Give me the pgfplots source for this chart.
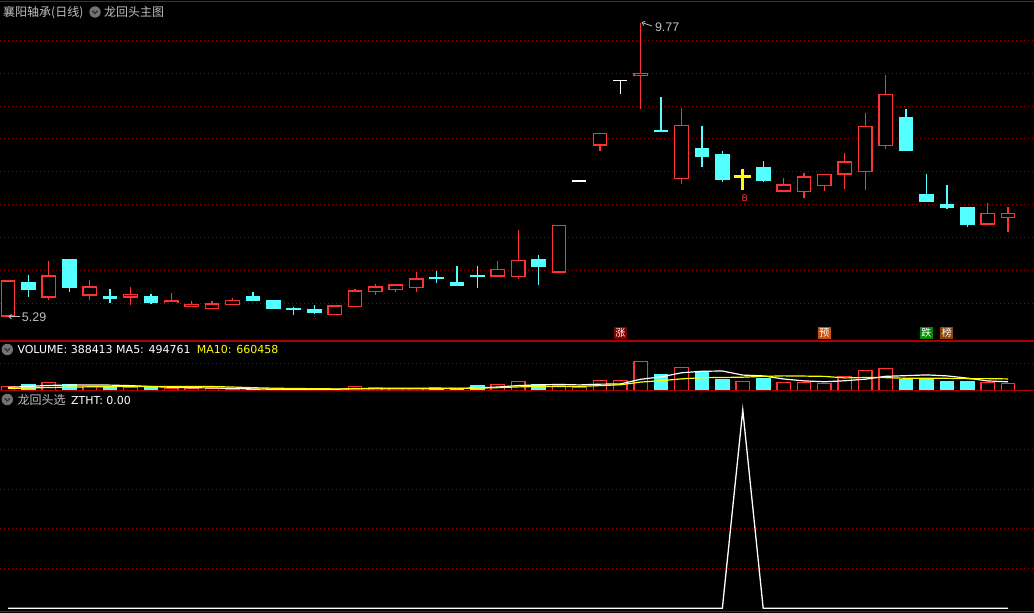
\documentclass[border=0pt]{standalone}
\usepackage{pgfplots}
\pgfplotsset{compat=1.18}
\usepackage{pgfplotstable}
\usepackage{fontspec}
\setmainfont{DejaVu Sans}
\newfontfamily\cjk{Noto Sans CJK SC}
\newfontfamily\lib{Liberation Sans}
\usetikzlibrary{arrows.meta}
\definecolor{cred}{RGB}{255,50,50}
\definecolor{ccyan}{RGB}{84,255,255}
\definecolor{cgrid}{RGB}{150,0,0}
\definecolor{csep}{RGB}{175,0,0}
\definecolor{ctext}{RGB}{192,192,192}
\definecolor{cyel}{RGB}{255,255,0}
\definecolor{cicon}{RGB}{115,115,115}
\definecolor{bzhang}{RGB}{128,0,0}
\definecolor{byu}{RGB}{200,80,20}
\definecolor{bdie}{RGB}{0,140,0}
\definecolor{bbang}{RGB}{140,70,10}

% candles: i open high low close
\pgfplotstableread{
i o h l c
1 5.31 5.84 5.29 5.84
3 5.60 6.15 5.56 5.92
5 5.63 5.86 5.55 5.75
7 5.60 5.75 5.47 5.64
9 5.51 5.66 5.50 5.54
10 5.45 5.54 5.44 5.48
11 5.42 5.54 5.42 5.49
12 5.48 5.58 5.47 5.55
17 5.33 5.48 5.33 5.46
18 5.45 5.72 5.44 5.69
19 5.68 5.80 5.63 5.75
20 5.71 5.80 5.67 5.78
21 5.74 5.98 5.67 5.87
25 5.92 6.15 5.92 6.02
26 5.91 6.62 5.87 6.15
28 5.98 6.69 5.98 6.69
30 7.91 8.08 7.82 8.08
32 8.96 9.77 8.46 9.00
34 7.40 8.47 7.31 8.21
39 7.21 7.41 7.21 7.30
40 7.20 7.48 7.11 7.42
41 7.29 7.46 7.21 7.46
42 7.47 7.79 7.24 7.65
43 7.51 8.40 7.23 8.19
44 7.90 8.97 7.85 8.68
49 6.71 7.03 6.71 6.87
50 6.81 6.97 6.59 6.87
}\up
\pgfplotstableread{
i o h l c
2 5.81 5.93 5.60 5.72
4 6.16 6.16 5.68 5.75
6 5.61 5.72 5.51 5.58
8 5.60 5.64 5.49 5.52
13 5.60 5.67 5.54 5.55
14 5.54 5.55 5.42 5.42
15 5.42 5.45 5.33 5.41
16 5.40 5.48 5.34 5.36
22 5.89 5.99 5.81 5.88
23 5.81 6.07 5.77 5.78
24 5.92 6.07 5.74 5.91
27 6.16 6.24 5.78 6.07
33 8.13 8.64 8.11 8.11
35 7.85 8.20 7.58 7.73
36 7.76 7.82 7.35 7.38
38 7.56 7.67 7.35 7.37
45 8.32 8.46 7.82 7.82
46 7.15 7.47 7.05 7.05
47 7.00 7.30 6.93 6.96
48 6.95 6.97 6.67 6.70
}\dn
\pgfplotstableread{
i o h l c
29 7.36 7.36 7.36 7.36
31 8.89 8.89 8.69 8.89
}\wh
\pgfplotstableread{
i o h l c
37 7.43 7.54 7.23 7.43
}\ye
% volume (thousand shares)
\pgfplotstableread{
i v
1 211
3 440
5 228
7 188
9 114
10 114
11 114
12 57
17 74
18 228
19 154
20 97
21 97
25 348
26 508
28 251
29 154
30 565
31 565
32 1674
34 1325
37 508
39 446
40 446
41 388
42 800
43 1148
44 1262
49 457
50 388.4
}\volup
\pgfplotstableread{
i v
2 343
4 343
6 188
8 188
13 57
14 57
15 74
16 74
22 131
23 131
24 286
27 331
33 931
35 994
36 640
38 703
45 640
46 605
47 514
48 514
}\voldn
\pgfplotstableread{
i m5 m10
1 180 110
2 230 140
3 290 170
4 310 195
5 313 210
6 308 220
7 277 228
8 227 234
9 181 236
10 158 236
11 144 226
12 117 197
13 91 159
14 80 131
15 72 115
16 64 104
17 67 92
18 101 96
19 121 100
20 125 99
21 130 97
22 141 104
23 122 112
24 148 135
25 199 162
26 281 205
27 321 231
28 345 233
29 318 233
30 362 280
31 373 327
32 642 481
33 778 561
34 1012 665
35 1098 730
36 1113 743
37 880 761
38 834 806
39 658 835
40 549 823
41 498 806
42 557 718
43 646 740
44 809 734
45 848 698
46 891 695
47 834 695
48 707 676
49 546 677
50 494.8 660.5
}\ma
\pgfplotstableread{
i z
1 0
2 0
3 0
4 0
5 0
6 0
7 0
8 0
9 0
10 0
11 0
12 0
13 0
14 0
15 0
16 0
17 0
18 0
19 0
20 0
21 0
22 0
23 0
24 0
25 0
26 0
27 0
28 0
29 0
30 0
31 0
32 0
33 0
34 0
35 0
36 0
37 1
38 0
39 0
40 0
41 0
42 0
43 0
44 0
45 0
46 0
47 0
48 0
49 0
50 0
}\zt

\pgfplotsset{
  wick/.style 2 args={draw=none, mark=none, forget plot, error bars/.cd, y dir=minus, y explicit, error mark=none, error bar style={draw=#1, line width=#2, line cap=butt}},
  body/.style 2 args={draw=none, mark=none, forget plot, error bars/.cd, y dir=minus, y explicit, error mark=none, error bar style={draw=#1, line width=#2, line cap=butt}},
  panel/.style={scale only axis, width=1034pt, xmin=0.608, xmax=51.27, hide axis, anchor=south west},
}
\tikzset{icon/.pic={\fill[cicon] (0,0) circle (5.7);
  \draw[black!80, line width=1.3pt] (-2.6,1.2) -- (0,-1.4) -- (2.6,1.2);},
  gridl/.style={cgrid, line width=1pt, dash pattern=on 1pt off 3pt}}

\begin{document}
\begin{tikzpicture}[x=1pt,y=1pt]
\fill[black] (0,0) rectangle (1034,613);

% ---------------- main panel ----------------
\begin{axis}[panel, at={(0pt,272pt)}, height=341pt, ymin=4.930, ymax=10.1125, clip=false]
\foreach \g in {5.5,6.0,6.5,7.0,7.5,8.0,8.5,9.0,9.5}{
  \edef\tmp{\noexpand\draw[gridl] (axis cs:0.608,\g) -- (axis cs:51.27,\g);}\tmp}
% red hollow
\addplot[wick={cred}{1.3pt}] table[x=i, y=h, y error minus expr={\thisrow{h}-\thisrow{l}}] {\up};
\addplot[body={cred}{14.7pt}] table[x=i, y expr={\thisrow{c}+0.01}, y error minus expr={\thisrow{c}-\thisrow{o}+0.02}] {\up};
\addplot[body={black}{12.1pt}] table[x=i, y expr={\thisrow{c}-0.01}, y error minus expr={max(\thisrow{c}-\thisrow{o}-0.02,0)}] {\up};
% cyan filled
\addplot[wick={ccyan}{1.3pt}] table[x=i, y=h, y error minus expr={\thisrow{h}-\thisrow{l}}] {\dn};
\addplot[body={ccyan}{14.7pt}] table[x=i, y expr={\thisrow{o}+0.01}, y error minus expr={\thisrow{o}-\thisrow{c}+0.02}] {\dn};
% white flat
\addplot[wick={white}{1.3pt}] table[x=i, y=h, y error minus expr={\thisrow{h}-\thisrow{l}}] {\wh};
\addplot[body={white}{14.0pt}] table[x=i, y expr={\thisrow{o}+0.01}, y error minus expr={0.02}] {\wh};
% yellow signal
\addplot[wick={cyel}{3.3pt}] table[x=i, y=h, y error minus expr={\thisrow{h}-\thisrow{l}}] {\ye};
\addplot[body={cyel}{16.7pt}] table[x=i, y expr={\thisrow{o}+0.019}, y error minus expr={0.038}] {\ye};

% annotations
\node[text=cred, inner sep=0, font=\fontsize{9}{9}\selectfont] at (axis cs:37.1,7.096) {B};
\draw[ctext, line width=0.8pt, -{Straight Barb[length=2.5pt,width=4.5pt]}] (axis cs:32.55,9.717) -- (axis cs:32.04,9.772);
\node[anchor=west, text=ctext, inner sep=0, font=\lib\fontsize{12.5}{12.5}\selectfont] at (axis cs:32.69,9.702) {9.77};
\draw[ctext, line width=0.8pt, -{Straight Barb[length=2.5pt,width=4.5pt]}] (axis cs:1.59,5.30) -- (axis cs:1.02,5.30);
\node[anchor=west, text=ctext, inner sep=0, font=\lib\fontsize{12.5}{12.5}\selectfont] at (axis cs:1.67,5.29) {5.29};
\tikzset{sig/.style={fill=#1, text=white, inner sep=0pt, minimum width=13pt, minimum height=12pt, font=\cjk\fontsize{10}{10}\selectfont}}
\node[sig=bzhang] at (axis cs:31,5.051) {涨};
\node[sig=byu] at (axis cs:41,5.051) {预};
\node[sig=bdie] at (axis cs:46,5.051) {跌};
\node[sig=bbang] at (axis cs:47,5.051) {榜};
\end{axis}

% ---------------- volume panel ----------------
\begin{axis}[panel, at={(0pt,222.5pt)}, height=49.5pt, ymin=0, ymax=2827]
\draw[gridl] (axis cs:0.608,1531) -- (axis cs:51.27,1531);
\addplot[ybar, bar width=0.657, fill=black, draw=cred, line width=1.3pt, forget plot] table[x=i, y=v] {\volup};
\addplot[ybar, bar width=0.657, fill=ccyan, draw=ccyan, line width=1.3pt, forget plot] table[x=i, y=v] {\voldn};
\addplot[white, line width=1.2pt, mark=none] table[x=i, y=m5] {\ma};
\addplot[cyel, line width=1.2pt, mark=none] table[x=i, y=m10] {\ma};
\end{axis}

% ---------------- indicator panel ----------------
\begin{axis}[panel, at={(0pt,0pt)}, height=222.5pt, ymin=-0.0237, ymax=1.0983]
\foreach \g in {0.2,0.4,0.6,0.8}{
  \edef\tmp{\noexpand\draw[gridl] (axis cs:0.608,\g) -- (axis cs:51.27,\g);}\tmp}
\addplot[white, line width=1.3pt, mark=none] table[x=i, y=z] {\zt};
\end{axis}

% separators
\draw[csep, line width=1.2pt] (0,611.5) -- (1034,611.5);
\draw[csep, line width=1.2pt] (0,272) -- (1034,272);
\draw[csep, line width=1.2pt] (0,222.5) -- (1034,222.5);
\draw[csep, line width=1.2pt] (0,1.3) -- (1034,1.3);

% titles
\node[anchor=base west, text=ctext, inner sep=0, font=\cjk\fontsize{12}{12}\selectfont] at (3,596) {襄阳轴承(日线)};
\pic at (95,601) {icon};
\node[anchor=base west, text=ctext, inner sep=0, font=\cjk\fontsize{12}{12}\selectfont] at (104,596) {龙回头主图};

\pic at (7.3,263.5) {icon};
\node[anchor=base west, text=white, inner sep=0, font=\fontsize{11}{11}\selectfont] at (17.3,259.6) {VOLUME: 388413 MA5: 494761};
\node[anchor=base west, text=cyel, inner sep=0, font=\fontsize{11}{11}\selectfont] at (196.7,259.6) {MA10: 660458};

\pic at (7.3,213.5) {icon};
\node[anchor=base west, text=ctext, inner sep=0, font=\cjk\fontsize{12}{12}\selectfont] at (17.3,208.6) {龙回头选};
\node[anchor=base west, text=white, inner sep=0, font=\fontsize{11}{11}\selectfont] at (71,208.8) {ZTHT: 0.00};

\pgfresetboundingbox
\path[use as bounding box] (0,0) rectangle (1034,613);
\end{tikzpicture}
\end{document}
